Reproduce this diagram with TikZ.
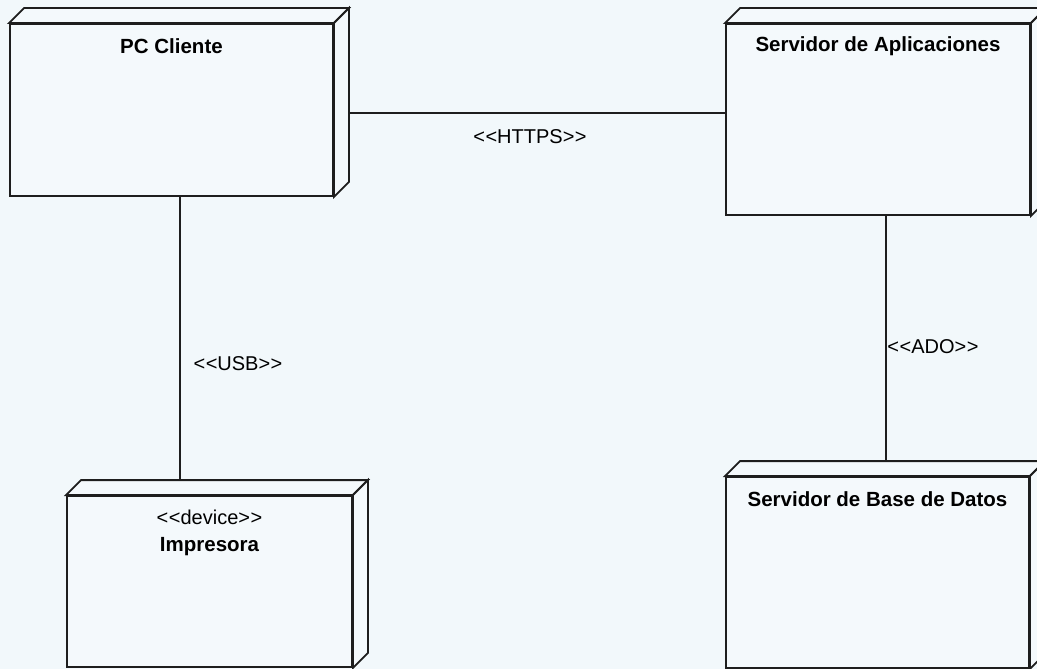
\documentclass[tikz,border=0pt]{standalone}
\usepackage{fontspec}
\setmainfont{Liberation Sans}
% guillemet-free stereotype brackets
\newcommand{\stl}{<\kern0.5pt<}
\newcommand{\str}{>\kern0.5pt>}
\begin{document}
\begin{tikzpicture}[x=1pt,y=-1pt,
  every node/.style={font=\fontsize{20}{22}\selectfont},
  nodebox/.style={draw=edge,line width=1.8pt,fill=facefill,inner sep=0pt,
    minimum width=#1},
  faceside/.style={draw=edge,line width=1.8pt,fill=facefill,line join=miter},
  link/.style={draw=edge,line width=1.8pt},
  title/.style={font=\bfseries\fontsize{20.5}{22}\selectfont,inner sep=0pt},
  stereo/.style={inner sep=0pt},
  conlabel/.style={inner sep=0pt}]
\definecolor{bg}{RGB}{242,248,251}
\definecolor{facefill}{RGB}{244,249,252}
\definecolor{edge}{RGB}{30,30,30}
\fill[bg] (0,0) rectangle (1037,669);
\useasboundingbox (0,0) rectangle (1037,669);
\clip (0,0) rectangle (1037,669);

% front faces of the four nodes
\node[nodebox=323pt,minimum height=172pt] (pc)  at (171.5,110)   {};
\node[nodebox=304pt,minimum height=191pt] (app) at (878,119.5)   {};
\node[nodebox=285pt,minimum height=171pt] (imp) at (209.5,581.5) {};
\node[nodebox=303pt,minimum height=191pt] (db)  at (877.5,572.5) {};

% top and right faces giving each node its depth
\foreach \n in {pc,app,imp,db}{
  \filldraw[faceside] (\n.north west) -- ++(15,-15)
     -- ([shift={(15,-15)}]\n.north east) -- (\n.north east) -- cycle;
  \filldraw[faceside] (\n.north east) -- ([shift={(15,-15)}]\n.north east)
     -- ([shift={(15,-15)}]\n.south east) -- (\n.south east) -- cycle;
}

% node names
\node[title] (pct)  at ([yshift=-23pt]pc.north)  {PC Cliente};
\node[title] (appt) at ([yshift=-23pt]app.north) {Servidor de Aplicaciones};
\node[title] (dbt)  at ([yshift=-23pt]db.north)  {Servidor de Base de Datos};
\node[stereo] (imps) at ([yshift=-22pt]imp.north) {\stl device\str};
\node[title] (impt) at ([yshift=-51pt]imp.north) {Impresora};

% communication paths
\coordinate (h1) at ([shift={(15,3)}]pc.east);
\draw[link] (h1) -- (h1 -| app.west);
\coordinate (u1) at ([xshift=8.5pt]pc.south);
\draw[link] (u1) -- ([yshift=15pt]u1 |- imp.north);
\coordinate (a1) at ([xshift=8pt]app.south);
\draw[link] (a1) -- ([yshift=15pt]a1 |- db.north);

% stereotypes of the paths
\node[conlabel] (https) at (530,137) {\stl HTTPS\str};
\node[conlabel] (usb)   at (238,364) {\stl USB\str};
\node[conlabel] (ado)   at (933,347) {\stl ADO\str};
\end{tikzpicture}
\end{document}
